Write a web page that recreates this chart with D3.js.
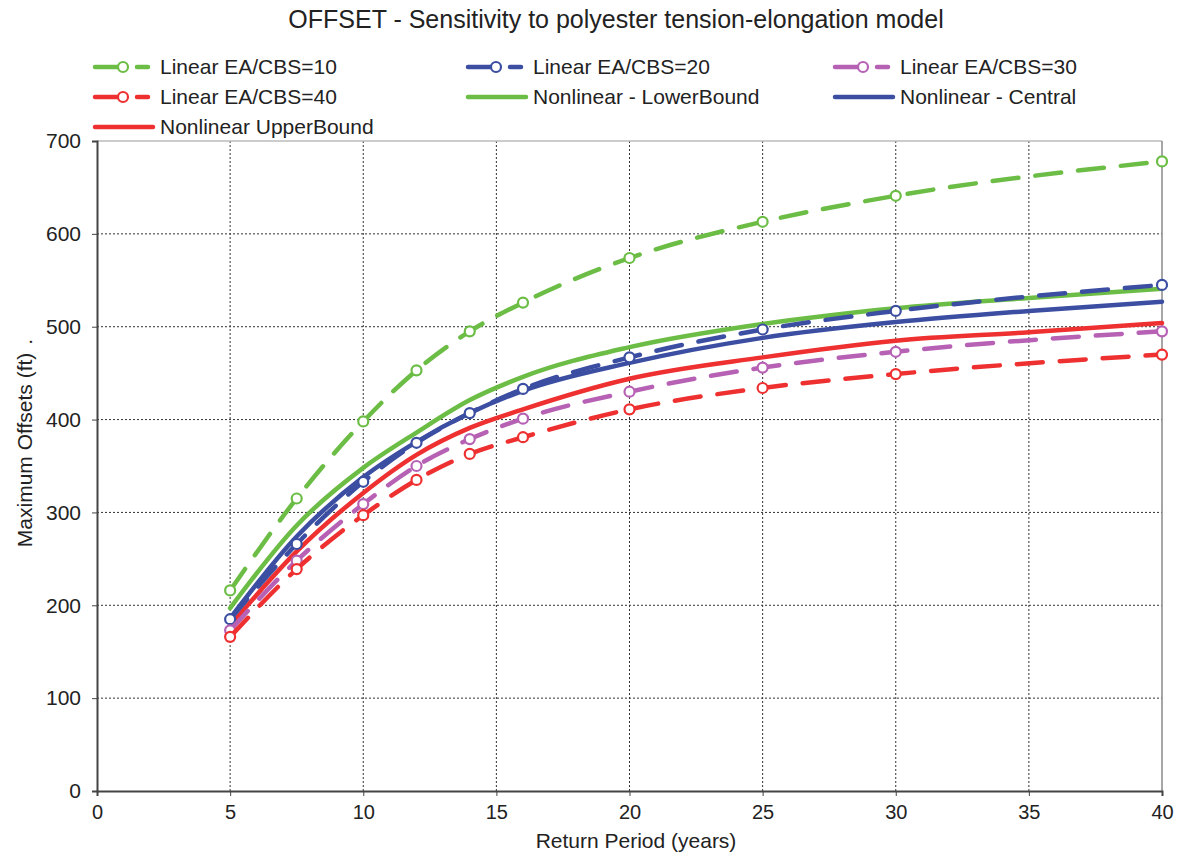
<!DOCTYPE html>
<html><head><meta charset="utf-8">
<script src="https://cdn.jsdelivr.net/npm/d3@7"></script>
<style>
body{margin:0;background:#fff;}
svg text{font-family:"Liberation Sans",Arial,sans-serif;fill:#222;}
</style></head>
<body><svg id="c" width="1185" height="854"></svg>
<script>
const linX = [5, 7.5, 10, 12, 14, 16, 20, 25, 30, 40];
const lin10 = [216, 315, 398, 453, 495, 526, 574, 613, 641, 678];
const lin20 = [185, 266, 333, 375, 407, 433, 467, 497, 517, 545];
const lin30 = [173, 248, 309, 350, 379, 401, 430, 456, 473, 495];
const lin40 = [166, 239, 297, 335, 363, 381, 411, 434, 449, 470];
const nlX = [5, 7.5, 10, 12, 14, 16, 20, 25, 30, 35, 40];
const nlLower = [197, 286, 348, 386, 421, 446, 478, 503, 520, 531, 541];
const nlCentral = [186, 274, 338, 376, 407, 431, 461, 488, 505, 517, 527];
const nlUpper = [178, 258, 321, 362, 391, 411, 444, 467, 485, 494, 504];
const xTicks = [0, 5, 10, 15, 20, 25, 30, 35, 40];
const yTicks = [0, 100, 200, 300, 400, 500, 600, 700];

const GREEN = "#6cbd45", BLUE = "#3b4ea2", PURPLE = "#b761b5", RED = "#ee3030";
const series = [
  {name: "Linear EA/CBS=10", xs: linX, ys: lin10, color: GREEN, dashed: true},
  {name: "Linear EA/CBS=20", xs: linX, ys: lin20, color: BLUE, dashed: true},
  {name: "Linear EA/CBS=30", xs: linX, ys: lin30, color: PURPLE, dashed: true},
  {name: "Linear EA/CBS=40", xs: linX, ys: lin40, color: RED, dashed: true},
  {name: "Nonlinear - LowerBound", xs: nlX, ys: nlLower, color: GREEN, dashed: false},
  {name: "Nonlinear - Central", xs: nlX, ys: nlCentral, color: BLUE, dashed: false},
  {name: "Nonlinear UpperBound", xs: nlX, ys: nlUpper, color: RED, dashed: false}
];

const svg = d3.select("#c");
const L = 97, R = 1162, T = 141, B = 791;
const x = d3.scaleLinear().domain([0, 40]).range([L, R]);
const y = d3.scaleLinear().domain([0, 700]).range([B, T]);

// grid
const g = svg.append("g");
g.selectAll(".vg").data(xTicks.filter(d => d > 0 && d < 40)).enter().append("line")
  .attr("x1", d => x(d)).attr("x2", d => x(d)).attr("y1", T).attr("y2", B)
  .attr("stroke", "#333").attr("stroke-width", 1).attr("stroke-dasharray", "2,2");
g.selectAll(".hg").data(yTicks.filter(d => d > 0 && d < 700)).enter().append("line")
  .attr("x1", L).attr("x2", R).attr("y1", d => y(d)).attr("y2", d => y(d))
  .attr("stroke", "#333").attr("stroke-width", 1).attr("stroke-dasharray", "2,2");
// frame
svg.append("line").attr("x1", L).attr("x2", R).attr("y1", T).attr("y2", T).attr("stroke", "#bbb").attr("stroke-width", 1.5);
svg.append("line").attr("x1", R).attr("x2", R).attr("y1", T).attr("y2", B).attr("stroke", "#888").attr("stroke-width", 1.5);

// axes
const xAxis = svg.append("g").attr("transform", `translate(0,${B})`)
  .call(d3.axisBottom(x).tickValues(xTicks).tickSize(5).tickPadding(9));
const yAxis = svg.append("g").attr("transform", `translate(${L},0)`)
  .call(d3.axisLeft(y).tickValues(yTicks).tickSize(5).tickPadding(11));
[xAxis, yAxis].forEach(a => {
  a.select(".domain").attr("stroke", "#444").attr("stroke-width", 2);
  a.selectAll(".tick line").attr("stroke", "#444").attr("stroke-width", 1);
  a.selectAll("text").attr("font-family", "Liberation Sans, Arial, sans-serif").attr("fill", "#222");
});
yAxis.selectAll("text").attr("font-size", 21);
xAxis.selectAll("text").attr("font-size", 20);

// lines
const line = d3.line().curve(d3.curveMonotoneX);
const plot = svg.append("g");
const order = [4, 5, 6, 0, 1, 2, 3];
order.forEach(i => {
  const s = series[i];
  const pts = s.xs.map((xv, j) => [x(xv), y(s.ys[j])]);
  plot.append("path").attr("d", line(pts)).attr("fill", "none")
    .attr("stroke", s.color).attr("stroke-width", 4.5)
    .attr("stroke-linecap", "round")
    .attr("stroke-dasharray", s.dashed ? "26,17" : null);
  if (s.dashed) {
    plot.selectAll(null).data(pts).enter().append("circle")
      .attr("cx", d => d[0]).attr("cy", d => d[1]).attr("r", 5)
      .attr("fill", "#fff").attr("stroke", s.color).attr("stroke-width", 2.2);
  }
});

// title
svg.append("text").attr("x", 616).attr("y", 28).attr("text-anchor", "middle")
  .attr("font-size", 25).text("OFFSET - Sensitivity to polyester tension-elongation model");

// axis labels
svg.append("text").attr("x", 636).attr("y", 848).attr("text-anchor", "middle")
  .attr("font-size", 21).text("Return Period (years)");
const yl = svg.append("text").attr("transform", "translate(32,443) rotate(-90)").attr("text-anchor", "middle")
  .attr("font-size", 21).text("Maximum Offsets (ft)");
yl.append("tspan").attr("dx", 8).text(".");

// legend
const legPos = [[95, 67], [468, 67], [835, 67], [95, 97], [468, 97], [835, 97], [95, 127]];
series.forEach((s, i) => {
  const [lx, ly] = legPos[i];
  const lg = svg.append("g");
  if (s.dashed) {
    lg.append("line").attr("x1", lx).attr("x2", lx + 25).attr("y1", ly).attr("y2", ly)
      .attr("stroke", s.color).attr("stroke-width", 4.5).attr("stroke-linecap", "round");
    lg.append("line").attr("x1", lx + 42).attr("x2", lx + 53).attr("y1", ly).attr("y2", ly)
      .attr("stroke", s.color).attr("stroke-width", 4.5).attr("stroke-linecap", "round");
    lg.append("circle").attr("cx", lx + 28).attr("cy", ly).attr("r", 5)
      .attr("fill", "#fff").attr("stroke", s.color).attr("stroke-width", 2.2);
  } else {
    lg.append("line").attr("x1", lx).attr("x2", lx + 58).attr("y1", ly).attr("y2", ly)
      .attr("stroke", s.color).attr("stroke-width", 4.5).attr("stroke-linecap", "round");
  }
  lg.append("text").attr("x", lx + 65).attr("y", ly + 7).attr("font-size", 21).text(s.name);
});
</script></body></html>
